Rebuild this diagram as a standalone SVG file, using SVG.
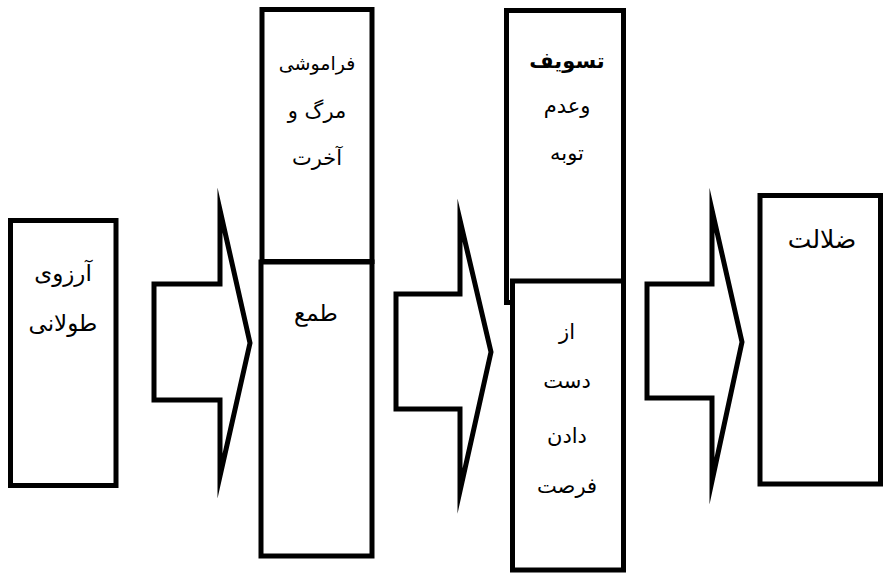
<svg xmlns="http://www.w3.org/2000/svg" width="884" height="574" viewBox="0 0 884 574">
<style>
.box{fill:#fff;stroke:#000;stroke-width:5}
.arr{fill:#fff;stroke:#000;stroke-width:5;stroke-linejoin:miter;stroke-miterlimit:10}
text{font-family:"DejaVu Sans","Noto Sans",sans-serif;font-size:21px;fill:#000;text-anchor:middle;direction:rtl}
.b{font-weight:bold}
.l{font-size:23px}
.s{font-size:19px}
.xl{font-size:25px}
</style>
<rect width="884" height="574" fill="#fff"/>
<g id="connectors">
<polygon class="arr" points="154,284 220,284 220,210 250,343 220,476 220,400 154,400"/>
<polygon class="arr" points="396,294 460,294 460,220 491,352 460,491 460,409 396,409"/>
<polygon class="arr" points="647,284 712,284 712,210 742,342 712,481 712,398 647,398"/>
</g>
<g id="n1">
<rect class="box" x="10.5" y="220.5" width="105.5" height="265"/>
<text class="l" x="63" y="281">آرزوی</text>
<text class="l" x="63" y="331">طولانی</text>
</g>
<g id="n2a">
<rect class="box" x="262" y="9.5" width="110" height="252"/>
<text class="s" x="317" y="70">فراموشی</text>
<text x="317" y="118">مرگ و</text>
<text x="317" y="165">آخرت</text>
</g>
<g id="n2b">
<rect class="box" x="261" y="262" width="111" height="294"/>
<text class="l" x="316" y="321">طمع</text>
</g>
<g id="n3a">
<rect class="box" x="506.5" y="10.5" width="117" height="292"/>
<text class="b" x="567" y="68">تسویف</text>
<text x="567" y="113">وعدم</text>
<text x="567" y="160">توبه</text>
</g>
<g id="n3b">
<rect class="box" x="512.5" y="281" width="111" height="289"/>
<text x="567" y="339">از</text>
<text x="567" y="388">دست</text>
<text x="567" y="443">دادن</text>
<text x="567" y="493">فرصت</text>
</g>
<g id="n4">
<rect class="box" x="760" y="195.5" width="120.5" height="288.5"/>
<text class="xl" x="822" y="248">ضلالت</text>
</g>
</svg>
